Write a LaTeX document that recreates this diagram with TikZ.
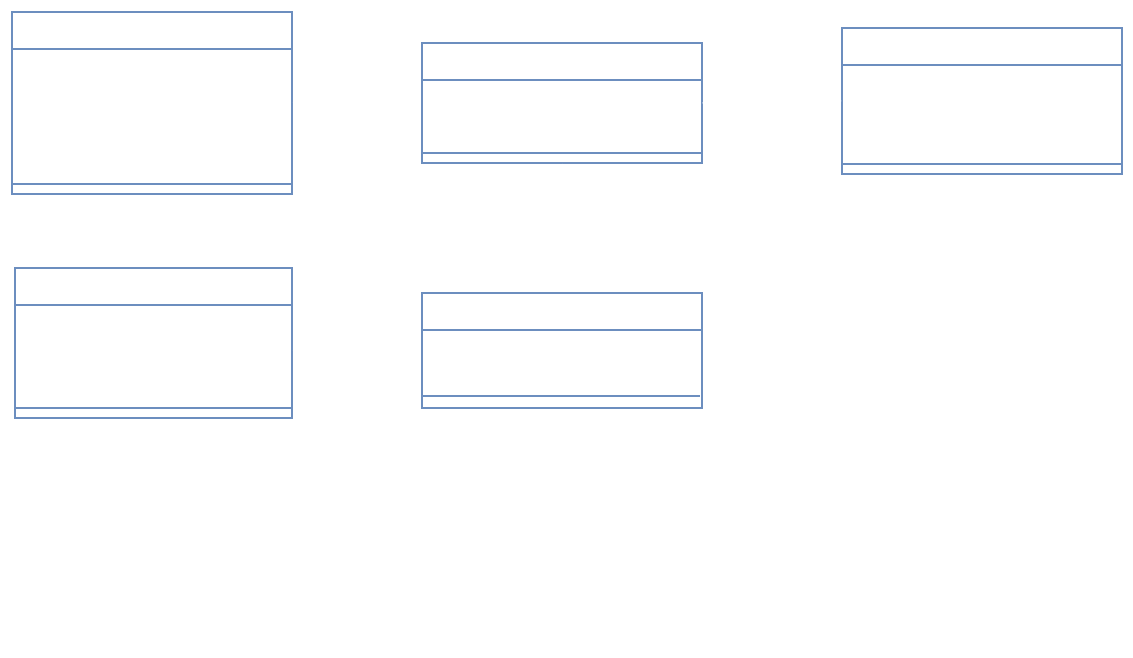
\documentclass[tikz,border=0pt]{standalone}
\usepackage{xcolor}
\usepackage{tikz}
\definecolor{umlblue}{HTML}{6C8EBF}

\begin{document}
\begin{tikzpicture}[x=1pt, y=-1pt, cls/.style = {draw=umlblue, line width=1.6pt, rectangle, anchor=north west, inner sep=0pt}, sep/.style = {draw=umlblue, line width=1.6pt}, link/.style = {draw=white, line width=1.4pt}]
	\useasboundingbox (0,0) rectangle (1133,657);
	\node[cls, minimum width=280pt, minimum height=182pt] (A) at (11,11) {};
	\node[cls, minimum width=280pt, minimum height=120pt] (B) at (421,42) {};
	\node[cls, minimum width=280pt, minimum height=146pt] (C) at (841,27) {};
	\node[cls, minimum width=277pt, minimum height=150pt] (D) at (14,267) {};
	\node[cls, minimum width=280pt, minimum height=115pt] (E) at (421,292) {};
	% compartments
	\draw[sep] ([yshift=-38pt]A.north west) -- ([yshift=-38pt]A.north east);
	\draw[sep] ([yshift=10.5pt]A.south west) -- ([yshift=10.5pt]A.south east);
	\draw[sep] ([yshift=-38pt]B.north west) -- ([yshift=-38pt]B.north east);
	\draw[sep] ([yshift=10.5pt]B.south west) -- ([yshift=10.5pt]B.south east);
	\draw[sep] ([yshift=-38pt]C.north west) -- ([yshift=-38pt]C.north east);
	\draw[sep] ([yshift=10.5pt]C.south west) -- ([yshift=10.5pt]C.south east);
	\draw[sep] ([yshift=-38pt]D.north west) -- ([yshift=-38pt]D.north east);
	\draw[sep] ([yshift=10.5pt]D.south west) -- ([yshift=10.5pt]D.south east);
	\draw[sep] ([yshift=-38pt]E.north west) -- ([yshift=-38pt]E.north east);
	\draw[sep] ([yshift=12.5pt]E.south west) -- ([yshift=12.5pt,xshift=-3pt]E.south east);
	% links
	\draw[link] (A.east) -- (B.west);
	\draw[link] (B.east) -- (C.west);
	\draw[link] (B.south) -- (E.north);
	\draw[link] (D.east |- E.west) -- (E.west);
\end{tikzpicture}
\end{document}
